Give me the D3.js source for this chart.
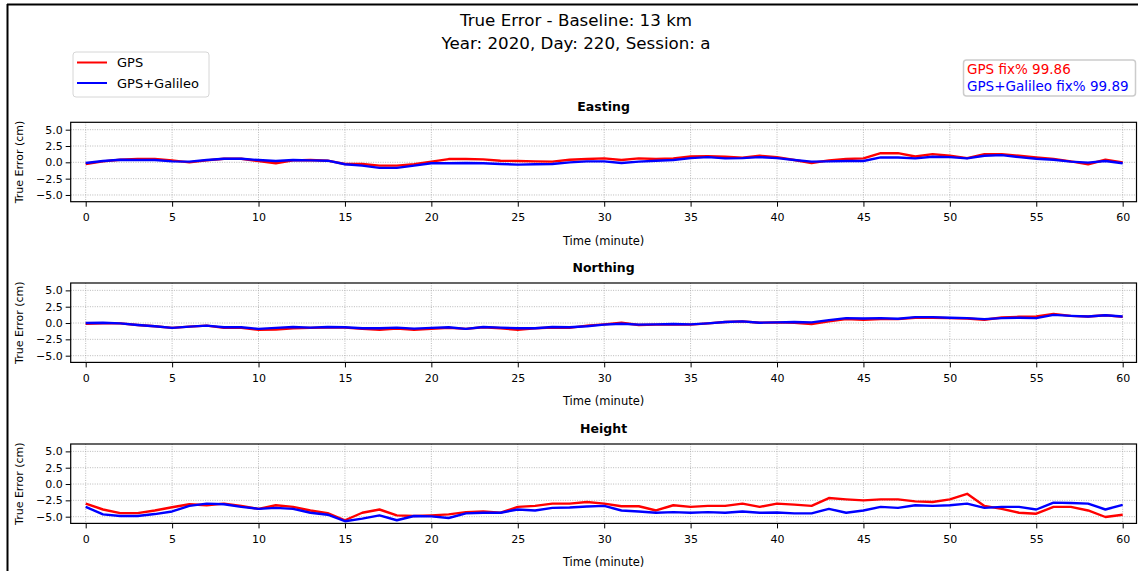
<!DOCTYPE html>
<html>
<head>
<meta charset="utf-8">
<script src="https://cdn.jsdelivr.net/npm/d3@7"></script>
<style>
  body { margin: 0; background: #fff; }
  svg { display: block; font-family: "DejaVu Sans", sans-serif; }
</style>
</head>
<body>
<svg id="chart" width="1138" height="571"></svg>
<script>
// time in minutes (one reading per minute)
var minutes = d3.range(0, 61);

var eastGps = [-0.25, 0.15, 0.4, 0.5, 0.5, 0.3, 0.0, 0.3, 0.55, 0.55, 0.2, -0.15, 0.3, 0.35, 0.25, -0.25, -0.25, -0.5, -0.5, -0.3,
  0.1, 0.5, 0.5, 0.45, 0.25, 0.2, 0.15, 0.1, 0.4, 0.5, 0.6, 0.35, 0.6, 0.5, 0.6, 0.9, 0.95, 0.85, 0.7, 1.0,
  0.8, 0.35, -0.1, 0.3, 0.5, 0.6, 1.4, 1.4, 0.9, 1.25, 1.0, 0.65, 1.25, 1.25, 1.0, 0.75, 0.5, 0.15, -0.3, 0.4, 0.0];
var eastGal = [-0.1, 0.2, 0.4, 0.35, 0.35, 0.15, 0.1, 0.35, 0.55, 0.55, 0.35, 0.2, 0.35, 0.3, 0.25, -0.3, -0.5, -0.85, -0.85, -0.5,
  -0.15, -0.15, -0.1, -0.15, -0.25, -0.35, -0.3, -0.25, 0.0, 0.15, 0.15, -0.1, 0.1, 0.25, 0.35, 0.65, 0.8, 0.6, 0.65, 0.8,
  0.65, 0.35, 0.1, 0.15, 0.2, 0.2, 0.75, 0.75, 0.6, 0.85, 0.8, 0.6, 1.0, 1.1, 0.8, 0.55, 0.4, 0.1, -0.05, 0.2, -0.15];

var northGps = [-0.1, -0.05, -0.05, -0.3, -0.5, -0.75, -0.55, -0.4, -0.75, -0.75, -1.05, -1.0, -0.8, -0.75, -0.7, -0.7, -0.9, -1.05, -0.85, -1.05,
  -0.9, -0.75, -0.9, -0.65, -0.8, -1.05, -0.8, -0.7, -0.75, -0.4, -0.2, 0.05, -0.3, -0.25, -0.2, -0.25, -0.05, 0.15, 0.25, 0.05,
  0.1, 0.05, -0.15, 0.25, 0.6, 0.5, 0.6, 0.6, 0.8, 0.8, 0.75, 0.7, 0.5, 0.85, 0.95, 1.0, 1.4, 1.1, 1.0, 1.2, 0.95];
var northGal = [0.0, 0.05, -0.05, -0.3, -0.5, -0.75, -0.55, -0.4, -0.65, -0.65, -0.9, -0.75, -0.6, -0.7, -0.6, -0.65, -0.8, -0.8, -0.7, -0.85,
  -0.75, -0.65, -0.9, -0.6, -0.7, -0.8, -0.8, -0.6, -0.65, -0.5, -0.25, -0.1, -0.25, -0.2, -0.15, -0.2, -0.05, 0.15, 0.25, 0.05,
  0.1, 0.15, 0.1, 0.45, 0.75, 0.7, 0.75, 0.65, 0.9, 0.9, 0.8, 0.75, 0.6, 0.75, 0.8, 0.75, 1.25, 1.1, 1.0, 1.2, 1.0];

var heightGps = [-3.0, -3.9, -4.45, -4.45, -4.05, -3.55, -3.1, -3.25, -3.0, -3.35, -3.8, -3.25, -3.5, -4.05, -4.45, -5.55, -4.4, -3.9, -4.8, -4.9,
  -4.8, -4.65, -4.3, -4.2, -4.4, -3.5, -3.35, -3.0, -3.0, -2.75, -3.0, -3.4, -3.4, -4.05, -3.25, -3.5, -3.35, -3.35, -3.0, -3.5,
  -3.0, -3.15, -3.35, -2.15, -2.35, -2.5, -2.35, -2.35, -2.65, -2.75, -2.35, -1.5, -3.35, -3.8, -4.4, -4.55, -3.5, -3.5, -4.05, -5.05, -4.7];
var heightGal = [-3.5, -4.65, -4.9, -4.9, -4.6, -4.2, -3.35, -3.0, -3.1, -3.5, -3.8, -3.65, -3.8, -4.4, -4.7, -5.7, -5.3, -4.8, -5.55, -4.9,
  -4.95, -5.2, -4.5, -4.4, -4.4, -3.9, -4.05, -3.65, -3.6, -3.45, -3.35, -4.05, -4.2, -4.4, -4.3, -4.4, -4.3, -4.4, -4.2, -4.4,
  -4.35, -4.5, -4.5, -3.8, -4.4, -4.05, -3.5, -3.65, -3.25, -3.35, -3.25, -3.0, -3.65, -3.5, -3.5, -3.9, -2.85, -2.9, -3.0, -3.9, -3.2];

var panelTitles = ["Easting", "Northing", "Height"];
var seriesNames = ["GPS", "GPS+Galileo"];
var seriesColors = ["red", "blue"];
var fixPercent = [99.86, 99.89];
var xTicks = [0, 5, 10, 15, 20, 25, 30, 35, 40, 45, 50, 55, 60];
var yTicks = [-5, -2.5, 0, 2.5, 5];

var panelData = [[eastGps, eastGal], [northGps, northGal], [heightGps, heightGal]];

var svg = d3.select("#chart");

// frame edges seen in the screenshot
svg.append("line").attr("x1", 7).attr("x2", 1138).attr("y1", 4.5).attr("y2", 4.5)
  .attr("stroke", "#000").attr("stroke-width", 2);
svg.append("line").attr("x1", 7.5).attr("x2", 7.5).attr("y1", 4).attr("y2", 571)
  .attr("stroke", "#000").attr("stroke-width", 2);

// figure title
svg.append("text").attr("x", 576).attr("y", 26).attr("text-anchor", "middle")
  .attr("font-size", 16.7).text("True Error - Baseline: 13 km");
svg.append("text").attr("x", 576).attr("y", 49).attr("text-anchor", "middle")
  .attr("font-size", 16.7).text("Year: 2020, Day: 220, Session: a");

var left = 70.7, right = 1136.5, ph = 79.4;
var tops = [122.3, 283, 444];

var x = d3.scaleLinear().domain([-0.868, 60.8]).range([left, right]);

tops.forEach(function (top, i) {
  var y = d3.scaleLinear().domain([-6.03, 6.13]).range([top + ph, top]);
  var g = svg.append("g");

  // grid
  g.selectAll(".gx").data(xTicks).enter().append("line")
    .attr("x1", function (d) { return x(d); }).attr("x2", function (d) { return x(d); })
    .attr("y1", top).attr("y2", top + ph)
    .attr("stroke", "#a8a8a8").attr("stroke-width", 0.8).attr("stroke-dasharray", "1,1.4");
  g.selectAll(".gy").data(yTicks).enter().append("line")
    .attr("x1", left).attr("x2", right)
    .attr("y1", function (d) { return y(d); }).attr("y2", function (d) { return y(d); })
    .attr("stroke", "#a8a8a8").attr("stroke-width", 0.8).attr("stroke-dasharray", "1,1.4");

  // series
  var defsId = "clip" + i;
  g.append("clipPath").attr("id", defsId).append("rect")
    .attr("x", left).attr("y", top).attr("width", right - left).attr("height", ph);
  var line = d3.line()
    .x(function (d, j) { return x(minutes[j]); })
    .y(function (d) { return y(d); });
  panelData[i].forEach(function (vals, k) {
    g.append("path").datum(vals)
      .attr("clip-path", "url(#" + defsId + ")")
      .attr("fill", "none").attr("stroke", seriesColors[k])
      .attr("stroke-width", 2.4).attr("stroke-linejoin", "round")
      .attr("d", line);
  });

  // axes
  var xAxis = d3.axisBottom(x).tickValues(xTicks).tickSize(5).tickPadding(7);
  var yAxis = d3.axisLeft(y).tickValues(yTicks).tickSize(5).tickPadding(3).tickFormat(d3.format(".1f"));
  var gx = g.append("g").attr("transform", "translate(0," + (top + ph) + ")").call(xAxis);
  var gy = g.append("g").attr("transform", "translate(" + left + ",0)").call(yAxis);
  [gx, gy].forEach(function (a) {
    a.select(".domain").remove();
    a.selectAll("text").attr("font-size", 11).attr("fill", "#000").attr("font-family", "DejaVu Sans");
    a.selectAll("line").attr("stroke", "#000").attr("stroke-width", 1);
  });
  gy.selectAll("text").text(function (d) { return d3.format(".1f")(d).replace("-", "\u2212"); });

  g.append("rect").attr("x", left).attr("y", top).attr("width", right - left).attr("height", ph)
    .attr("fill", "none").attr("stroke", "#000").attr("stroke-width", 1.2);

  // labels
  g.append("text").attr("x", (left + right) / 2).attr("y", top - 11)
    .attr("text-anchor", "middle").attr("font-size", 12.5).attr("font-weight", "bold")
    .text(panelTitles[i]);
  g.append("text").attr("x", (left + right) / 2).attr("y", top + ph + 43)
    .attr("text-anchor", "middle").attr("font-size", 11.5).text("Time (minute)");
  g.append("text")
    .attr("transform", "translate(23," + (top + ph / 2) + ") rotate(-90)")
    .attr("text-anchor", "middle").attr("font-size", 11).text("True Error (cm)");
});

// legend
var leg = svg.append("g");
leg.append("rect").attr("x", 73).attr("y", 52).attr("width", 136).attr("height", 45).attr("rx", 3)
  .attr("fill", "#fff").attr("stroke", "#d6d6d6").attr("stroke-width", 1);
seriesNames.forEach(function (name, k) {
  var ly = 62.5 + k * 20.5;
  leg.append("line").attr("x1", 77).attr("x2", 107).attr("y1", ly).attr("y2", ly)
    .attr("stroke", seriesColors[k]).attr("stroke-width", 2);
  leg.append("text").attr("x", 117).attr("y", ly + 4.5).attr("font-size", 13).text(name);
});

// fix% box
var fix = svg.append("g");
fix.append("rect").attr("x", 963.5).attr("y", 60).attr("width", 172).attr("height", 36).attr("rx", 3)
  .attr("fill", "#fff").attr("stroke", "#cccccc").attr("stroke-width", 1.5);
seriesNames.forEach(function (name, k) {
  fix.append("text").attr("x", 967).attr("y", 74 + k * 16.5).attr("font-size", 13.5)
    .attr("fill", seriesColors[k]).text(name + " fix% " + fixPercent[k].toFixed(2));
});
</script>
</body>
</html>
